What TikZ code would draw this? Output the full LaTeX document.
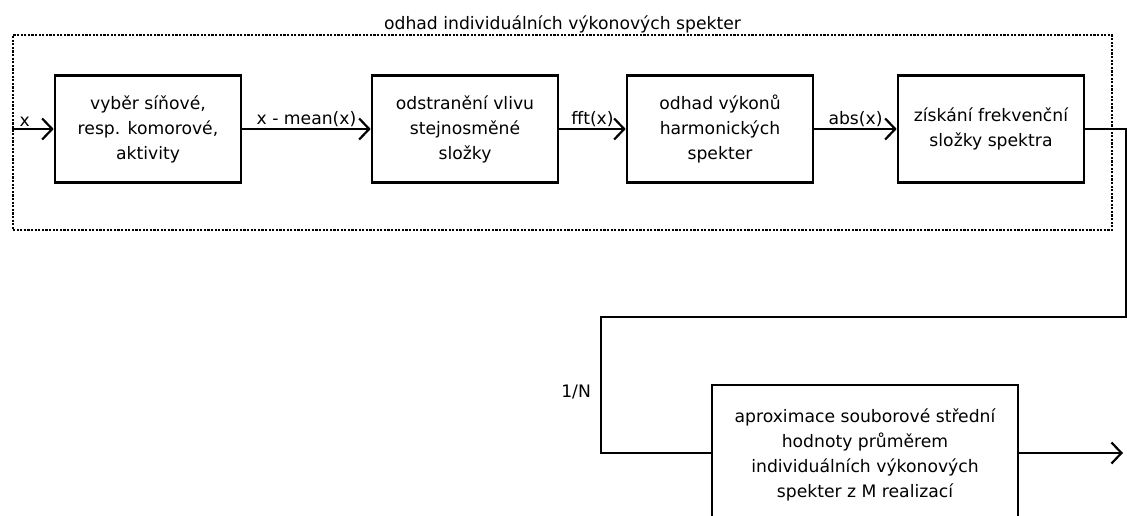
\documentclass[tikz,border=0pt]{standalone}
\usepackage{fontspec}
\setmainfont{DejaVu Sans}
\usetikzlibrary{arrows.meta}

\begin{document}
\begin{tikzpicture}[x=1pt, y=-1pt, font=\fontsize{17.2}{25}\selectfont,
    block/.style={draw, line width=2.6pt, align=center, minimum width=186pt, minimum height=107pt, inner sep=2pt},
    flow/.style={line width=2.2pt, -{Straight Barb[length=10pt, width=21pt, line width=2.2pt]}},
    wire/.style={line width=2.2pt},
    frame/.style={draw, line width=2.4pt, dash pattern=on 2.2pt off 1.4pt}]
    \clip (0,0) rectangle (1127,516);

    % Estimation stage
    \node[frame, minimum width=1099pt, minimum height=195pt,
          label={[inner sep=1pt]above:odhad individuálních výkonových spekter}] (est) at (562.5,132.5) {};

    % Processing blocks
    \node[block] (sel) at (148,129) {vyběr síňové,\\resp. komorové,\\aktivity};
    \node[block] (dc) at (465,129) {odstranění vlivu\\stejnosměné\\složky};
    \node[block] (pow) at (720,129) {odhad výkonů\\harmonických\\spekter};
    \node[block] (freq) at (991,129) {získání frekvenční\\složky spektra};

    % Averaging block
    \node[block, minimum width=306pt, minimum height=140pt] (avg) at (865,455)
        {aproximace souborové střední\\hodnoty průměrem\\individuálních výkonových\\spekter z M realizací};

    % Signal flow
    \draw[flow] (est.west |- sel.west) -- node[above, inner sep=1pt, pos=0.31] {x} (sel.west);
    \draw[flow] (sel) -- node[above, inner sep=1pt] {x - mean(x)} (dc);
    \draw[flow] (dc) -- node[above, inner sep=1pt] {fft(x)} (pow);
    \draw[flow] (pow) -- node[above, inner sep=1pt] {abs(x)} (freq);

    % Return path
    \coordinate (turn) at (1126,317);
    \coordinate (back) at (601,317);
    \coordinate (down) at (601,453);
    \draw[wire] (freq.east) -| (turn) -- (back) -- node[left, inner sep=9pt, pos=0.55] {1/N} (down) -- (avg.west |- down);

    % Output
    \coordinate (out) at (1123,453);
    \draw[flow] (avg.east |- out) -- (out);
\end{tikzpicture}
\end{document}
